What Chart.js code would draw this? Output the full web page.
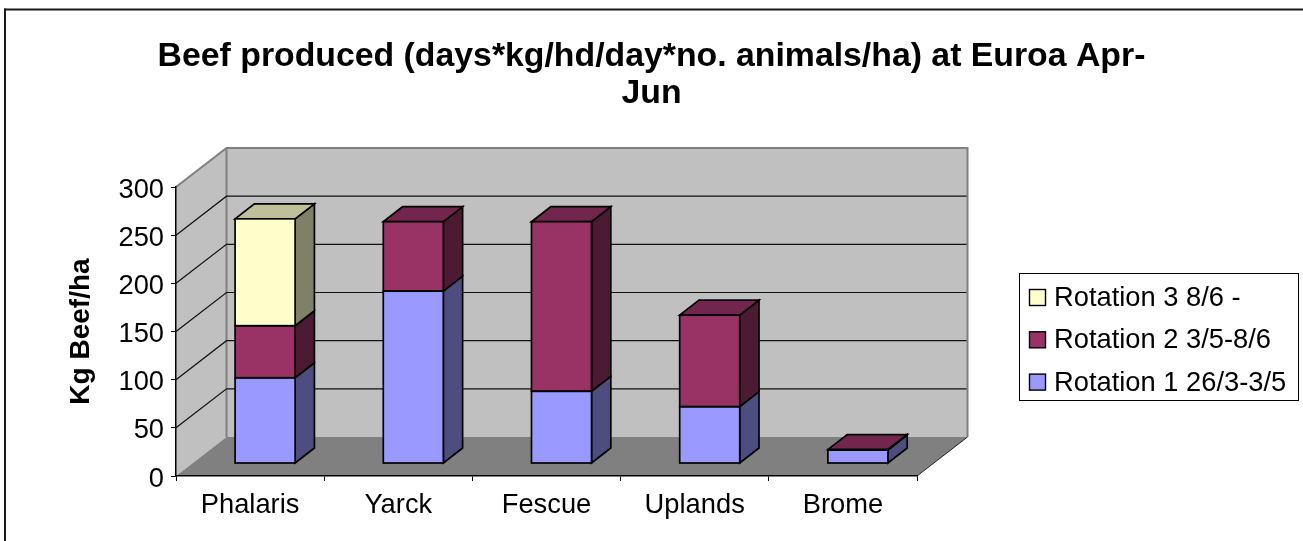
<!DOCTYPE html>
<html><head><meta charset="utf-8">
<style>html,body{margin:0;padding:0;background:#fff}canvas{display:block}</style>
<script src="https://cdn.jsdelivr.net/npm/chart.js@4"></script>
</head><body><canvas id="c" width="1303" height="541"></canvas>
<script>
const categories = ['Phalaris','Yarck','Fescue','Uplands','Brome'];
const rotation1 = [89,179,75,59,14];
const rotation2 = [54,72,176,95,0.5];
const rotation3 = [111,0,0,0,0];
const yTicks = [0,50,100,150,200,250,300];
const chartTitle = ['Beef produced (days*kg/hd/day*no. animals/ha) at Euroa Apr-','Jun'];

const FONT = '"Liberation Sans", Arial, sans-serif';
const WALL_DX = 50.5, WALL_DY = -39;
const BAR_DX = 15, BAR_DY = -12.5;
const DEPTH_DX = 19.3, DEPTH_DY = -15;

function shade(hex, f){
  const n = parseInt(hex.slice(1),16);
  return `rgb(${(n>>16&255)*f},${(n>>8&255)*f},${(n&255)*f})`;
}
function poly(ctx, pts, fill, stroke, lw){
  ctx.beginPath();
  pts.forEach((p,i)=> i?ctx.lineTo(p[0],p[1]):ctx.moveTo(p[0],p[1]));
  ctx.closePath();
  if(fill){ctx.fillStyle=fill;ctx.fill();}
  if(stroke){ctx.strokeStyle=stroke;ctx.lineWidth=lw;ctx.stroke();}
}
const scene = {
  id:'scene',
  afterLayout(chart){
    const t=chart.titleBlock;
    if(t){t.left=0;t.right=1303;t.width=1303;}
  },
  beforeDraw(chart){
    const {ctx,chartArea:a,scales:{y}} = chart;
    ctx.save();
    ctx.fillStyle='#fff';ctx.fillRect(0,0,1303,541);
    // outer frame (left and top only are visible)
    ctx.fillStyle='#1a1a1a';ctx.fillRect(4,8.5,1299,2);ctx.fillRect(4,8.5,2,532.5);
    const L=a.left,R=a.right,T=a.top,B=a.bottom,dx=WALL_DX,dy=WALL_DY;
    poly(ctx,[[L,B],[L+dx,B+dy],[L+dx,T+dy],[L,T]],'#C0C0C0');
    poly(ctx,[[L+dx,T+dy],[R+dx,T+dy],[R+dx,B+dy],[L+dx,B+dy]],'#C0C0C0');
    poly(ctx,[[L,B],[R,B],[R+dx,B+dy],[L+dx,B+dy]],'#808080');
    // wall edges
    ctx.strokeStyle='#808080';ctx.lineWidth=2;
    ctx.beginPath();
    ctx.moveTo(L,T);ctx.lineTo(L+dx,T+dy);ctx.lineTo(R+dx,T+dy);ctx.lineTo(R+dx,B+dy);
    ctx.moveTo(L+dx,T+dy);ctx.lineTo(L+dx,B+dy);
    ctx.stroke();
    // grid lines through the y scale
    y.ticks.forEach(t=>{
      if(t.value===0||t.value===300) return;
      const py=y.getPixelForValue(t.value);
      ctx.strokeStyle='#111';ctx.lineWidth=1.2;
      ctx.beginPath();ctx.moveTo(L,py);ctx.lineTo(L+dx,py+dy);ctx.lineTo(R+dx-1,py+dy);ctx.stroke();
    });
    ctx.strokeStyle='#222';ctx.lineWidth=1;
    ctx.beginPath();ctx.moveTo(R,B);ctx.lineTo(R+dx,B+dy);ctx.stroke();
    ctx.restore();
  },
  beforeDatasetsDraw(chart){
    const ctx=chart.ctx;
    ctx.save();
    ctx.translate(BAR_DX,BAR_DY);
    const n=categories.length;
    for(let i=0;i<n;i++){
      let topSeg=null;
      chart.data.datasets.forEach((ds,d)=>{
        if(!ds.data[i]) return;
        const b=chart.getDatasetMeta(d).data[i];
        const x2=b.x+b.width/2;
        poly(ctx,[[x2,b.base],[x2+DEPTH_DX,b.base+DEPTH_DY],[x2+DEPTH_DX,b.y+DEPTH_DY],[x2,b.y]],shade(ds.backgroundColor,0.5),'#000',1.7);
        topSeg={b,ds};
      });
      if(topSeg){
        const {b,ds}=topSeg, x1=b.x-b.width/2, x2=b.x+b.width/2;
        poly(ctx,[[x1,b.y],[x2,b.y],[x2+DEPTH_DX,b.y+DEPTH_DY],[x1+DEPTH_DX,b.y+DEPTH_DY]],shade(ds.backgroundColor,0.75),'#000',1.7);
      }
    }
  },
  afterDatasetsDraw(chart){
    const ctx=chart.ctx;
    chart.data.datasets.forEach((ds,d)=>{
      chart.getDatasetMeta(d).data.forEach((b,i)=>{
        if(!ds.data[i]) return;
        ctx.strokeStyle='#000';ctx.lineWidth=1.7;
        ctx.strokeRect(b.x-b.width/2,b.y,b.width,b.base-b.y);
      });
    });
    ctx.restore();
  },
  afterDraw(chart){
    const ctx=chart.ctx;
    ctx.save();
    ctx.strokeStyle='#000';ctx.lineWidth=1;ctx.fillStyle='#fff';
    ctx.fillRect(1019.5,273.5,279,127);ctx.strokeRect(1019.5,273.5,279,127);
    ctx.font='27.3px '+FONT;ctx.textAlign='left';ctx.textBaseline='alphabetic';
    [...chart.data.datasets].reverse().forEach((ds,i)=>{
      const yy=289.5+i*42.3;
      ctx.fillStyle=ds.backgroundColor;ctx.fillRect(1029.5,yy,16,16);
      ctx.strokeStyle='#000';ctx.lineWidth=1.4;ctx.strokeRect(1029.5,yy,16,16);
      ctx.fillStyle='#000';ctx.fillText(ds.label,1054,yy+16.5);
    });
    ctx.restore();
  }
};
new Chart(document.getElementById('c'),{
  type:'bar',
  data:{labels:categories,datasets:[
    {label:'Rotation 1 26/3-3/5',data:rotation1,backgroundColor:'#9999FF',clip:false},
    {label:'Rotation 2 3/5-8/6',data:rotation2,backgroundColor:'#993366',clip:false},
    {label:'Rotation 3 8/6 -',data:rotation3,backgroundColor:'#FFFFCC',clip:false}
  ]},
  plugins:[scene],
  options:{
    responsive:false,animation:false,
    layout:{padding:{left:0,right:386,top:0,bottom:0}},
    datasets:{bar:{barPercentage:0.405,categoryPercentage:1,borderWidth:0}},
    plugins:{
      legend:{display:false},tooltip:{enabled:false},
      title:{display:true,text:chartTitle,color:'#000',
        font:{family:FONT,size:33.8,weight:'bold',lineHeight:1.095},
        padding:{top:38.5,bottom:74.5}}
    },
    scales:{
      x:{stacked:true,
        afterFit(s){s.height=65;},
        grid:{drawOnChartArea:false,drawTicks:true,tickLength:5,color:'#000',offset:true},
        border:{display:true,color:'#000',width:1.5},
        ticks:{color:'#000',font:{family:FONT,size:27.3},padding:8,autoSkip:false,maxRotation:0}},
      y:{stacked:true,min:0,max:300,
        afterFit(s){s.width=176;},
        afterBuildTicks(s){s.ticks=yTicks.map(v=>({value:v}));},
        grid:{drawOnChartArea:false,drawTicks:true,tickLength:5,color:'#000'},
        border:{display:true,color:'#000',width:1.5},
        ticks:{color:'#000',font:{family:FONT,size:27.3},padding:7,labelOffset:3},
        title:{display:true,text:'Kg Beef/ha',color:'#000',font:{family:FONT,size:28,weight:'bold'},padding:{top:64,bottom:0}}}
    }
  }
});
</script></body></html>
